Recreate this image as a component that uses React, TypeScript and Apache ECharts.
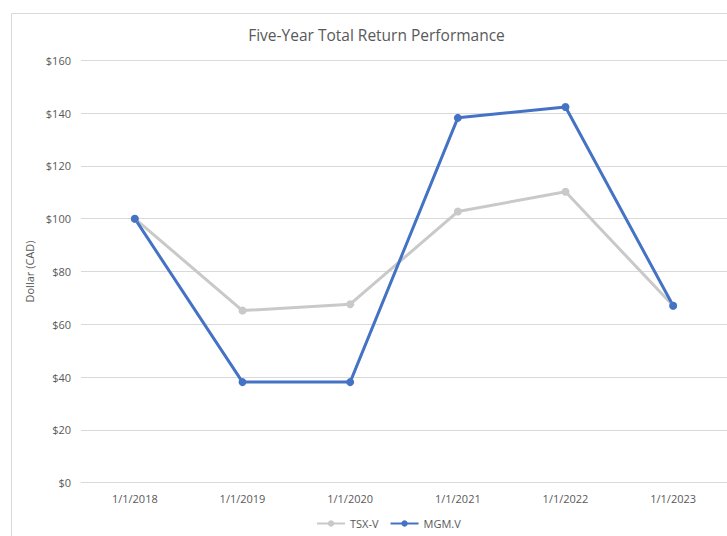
import React, { useEffect, useRef } from "react";
import * as echarts from "echarts";

const categories = ["1/1/2018", "1/1/2019", "1/1/2020", "1/1/2021", "1/1/2022", "1/1/2023"];
const tsxV = [100, 65.2, 67.6, 102.7, 110.2, 67];
const mgmV = [100, 38.1, 38.1, 138.2, 142.3, 67];
const yTicks = { min: 0, max: 160, interval: 20 };
const titleText = "Five-Year Total Return Performance";
const yAxisName = "Dollar (CAD)";

const FONT = "'Open Sans', 'Liberation Sans', sans-serif";
const TEXT = "#595959";

export default function App() {
  const ref = useRef<HTMLDivElement>(null);
  useEffect(() => {
    if (!ref.current) return;
    const chart = echarts.init(ref.current, null, { renderer: "svg" });
    chart.setOption({
      animation: false,
      backgroundColor: "#ffffff",
      textStyle: { fontFamily: FONT },
      graphic: [
        {
          type: "rect",
          shape: { x: 11.5, y: 13.5, width: 800, height: 600 },
          style: { fill: "none", stroke: "#d9d9d9", lineWidth: 1 },
          silent: true,
        },
        {
          type: "text",
          x: 376.5,
          y: 35,
          style: {
            text: titleText,
            fill: TEXT,
            font: `15.5px ${FONT}`,
            textAlign: "center",
            textVerticalAlign: "middle",
          },
        },
      ],
      legend: {
        left: 311,
        top: 513,
        itemWidth: 28,
        itemHeight: 8,
        itemGap: 11,
        textStyle: { color: TEXT, fontSize: 11, fontFamily: FONT },
        data: ["TSX-V", "MGM.V"],
      },
      grid: { left: 81, right: 0, top: 60.3, bottom: 53.3, containLabel: false },
      xAxis: {
        type: "category",
        data: categories,
        boundaryGap: true,
        axisLine: { show: true, lineStyle: { color: "#d9d9d9" } },
        axisTick: { show: false },
        axisLabel: { color: TEXT, fontSize: 11, margin: 10, fontFamily: FONT },
      },
      yAxis: {
        type: "value",
        min: yTicks.min,
        max: yTicks.max,
        interval: yTicks.interval,
        name: yAxisName,
        nameLocation: "middle",
        nameRotate: 90,
        nameGap: 35,
        nameTextStyle: { color: TEXT, fontSize: 11, fontFamily: FONT },
        axisLine: { show: false },
        axisTick: { show: false },
        axisLabel: { color: TEXT, fontSize: 11, margin: 10, formatter: (v: number) => `$${v}`, fontFamily: FONT },
        splitLine: { lineStyle: { color: "#d9d9d9", width: 1 } },
      },
      series: [
        {
          name: "TSX-V",
          type: "line",
          data: tsxV,
          symbol: "circle",
          symbolSize: 8,
          lineStyle: { color: "#c9c9c9", width: 3 },
          itemStyle: { color: "#c9c9c9" },
        },
        {
          name: "MGM.V",
          type: "line",
          data: mgmV,
          symbol: "circle",
          symbolSize: 8,
          lineStyle: { color: "#4472c4", width: 3 },
          itemStyle: { color: "#4472c4" },
        },
      ],
    });
    return () => chart.dispose();
  }, []);
  return (
    <div
      ref={ref}
      style={{ position: "fixed", left: 0, top: 0, width: 727, height: 536, background: "#fff" }}
    />
  );
}
